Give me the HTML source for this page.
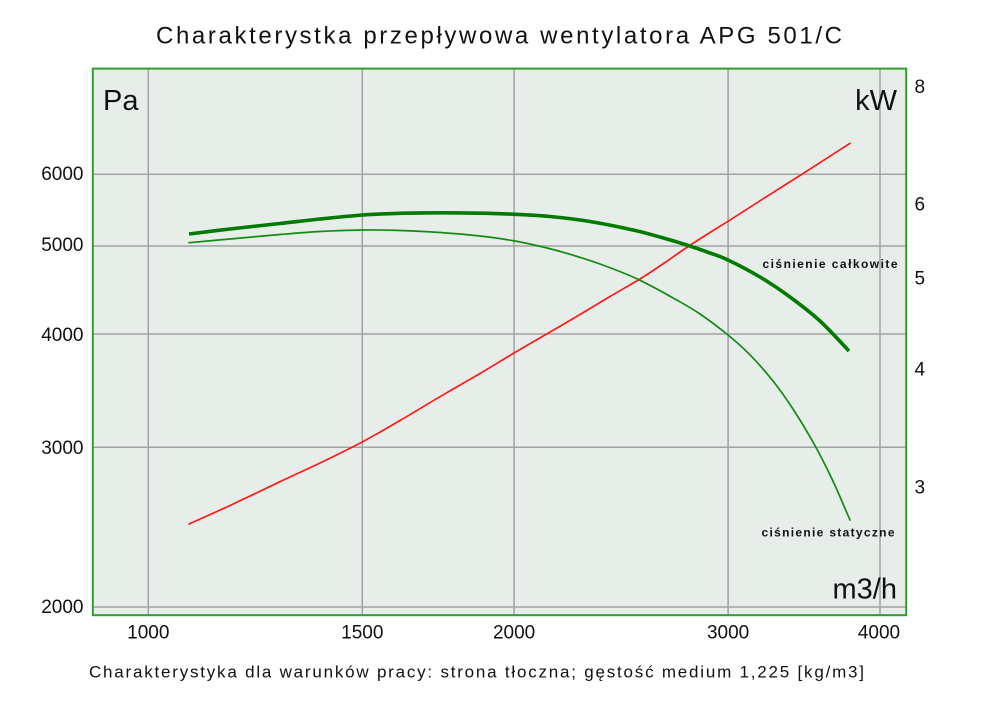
<!DOCTYPE html>
<html>
<head>
<meta charset="utf-8">
<style>
  html, body { margin: 0; padding: 0; background: #ffffff; }
  svg { display: block; }
  text { font-family: "Liberation Sans", "DejaVu Sans", sans-serif; fill: #111; }
</style>
</head>
<body>
<svg id="chart" width="1000" height="706" viewBox="0 0 1000 706" xmlns="http://www.w3.org/2000/svg">
  <rect x="0" y="0" width="1000" height="706" fill="#ffffff"/>

  <!-- Title -->
  <text x="156" y="43.3" font-size="24" textLength="686" lengthAdjust="spacing">Charakterystka przepływowa wentylatora APG 501/C</text>

  <!-- Plot background -->
  <rect x="93" y="69" width="813" height="546" fill="#e7eeea"/>

  <!-- Grid -->
  <g stroke="#a2a2a2" stroke-width="1.5" fill="none">
    <line x1="148.3" y1="69" x2="148.3" y2="615"/>
    <line x1="362.3" y1="69" x2="362.3" y2="615"/>
    <line x1="514.1" y1="69" x2="514.1" y2="615"/>
    <line x1="728.1" y1="69" x2="728.1" y2="615"/>
    <line x1="880" y1="69" x2="880" y2="615"/>
    <line x1="93" y1="174.3" x2="906" y2="174.3"/>
    <line x1="93" y1="246" x2="906" y2="246"/>
    <line x1="93" y1="334" x2="906" y2="334"/>
    <line x1="93" y1="447.3" x2="906" y2="447.3"/>
    <line x1="93" y1="607" x2="906" y2="607"/>
  </g>

  <!-- Frame -->
  <rect x="92.8" y="68.6" width="813.4" height="546.6" fill="none" stroke="#2e9e2e" stroke-width="2"/>

  <!-- Red power curve -->
  <polyline class="smooth" fill="none" stroke="#ff1a1a" stroke-width="1.7" stroke-linejoin="round" stroke-linecap="round"
    points="189,524 230,505.5 280,481.7 320,463 362.7,441.7 400,420.5 440,396.7 480,373.5 514,353 546.7,334 580,314.5 610,296.5 640,279 665,262.5 686.7,247.5 710,232.5 728,221.3 760,200.8 800,175.5 850,143.3"/>

  <!-- Static pressure (thin green) -->
  <polyline class="smooth" fill="none" stroke="#138a13" stroke-width="1.7" stroke-linejoin="round" stroke-linecap="round"
    points="189,242.7 230,239 280,234.5 320,231.5 362.7,230 400,230.5 440,232.5 480,236 515,241 545,247.5 566.7,253.3 600,264 638,279.3 676.7,300 700,314 728,335 750,354.8 773,381 793,409 813,442 832,479 850,520"/>

  <!-- Total pressure (thick green) -->
  <polyline class="smooth" fill="none" stroke="#007a00" stroke-width="3.6" stroke-linejoin="round" stroke-linecap="butt"
    points="189,234 230,229 280,223.5 320,219 362.7,215 400,213.3 440,212.8 480,213.2 515,214.3 550,216.5 590,221.5 633,230 660,237 686.7,245 710,253 728,260 760,277 790,297 820,321 849,351"/>

  <!-- Curve labels -->
  <text x="762.5" y="268" font-size="12" font-weight="bold" textLength="135" lengthAdjust="spacing">ciśnienie całkowite</text>
  <text x="761.5" y="536.5" font-size="12" font-weight="bold" textLength="133" lengthAdjust="spacing">ciśnienie statyczne</text>

  <!-- Unit labels -->
  <text x="103" y="110" font-size="29">Pa</text>
  <text x="897" y="110" font-size="29" text-anchor="end">kW</text>
  <text x="897" y="598.3" font-size="29" text-anchor="end">m3/h</text>

  <!-- Left axis labels -->
  <g font-size="19" text-anchor="end">
    <text x="83.5" y="180">6000</text>
    <text x="83.5" y="251">5000</text>
    <text x="83.5" y="341">4000</text>
    <text x="83.5" y="454">3000</text>
    <text x="83.5" y="613">2000</text>
  </g>

  <!-- Right axis labels -->
  <g font-size="19">
    <text x="914.5" y="93">8</text>
    <text x="914.5" y="210.7">6</text>
    <text x="914.5" y="284.7">5</text>
    <text x="914.5" y="375.7">4</text>
    <text x="914.5" y="493.5">3</text>
  </g>

  <!-- Bottom axis labels -->
  <g font-size="19" text-anchor="middle">
    <text x="148.3" y="638.3">1000</text>
    <text x="362.3" y="638.3">1500</text>
    <text x="514.1" y="638.3">2000</text>
    <text x="728.1" y="638.3">3000</text>
    <text x="879" y="638.3">4000</text>
  </g>

  <!-- Footer -->
  <text x="89" y="677.7" font-size="17" textLength="775" lengthAdjust="spacing">Charakterystyka dla warunków pracy: strona tłoczna; gęstość medium 1,225 [kg/m3]</text>
</svg>
<script>
(function(){
  var NS = "http://www.w3.org/2000/svg";
  var lines = document.querySelectorAll("polyline.smooth");
  for (var i = 0; i < lines.length; i++) {
    var pl = lines[i];
    var raw = pl.getAttribute("points").trim().split(/\s+/);
    var p = raw.map(function(s){ var a = s.split(","); return [parseFloat(a[0]), parseFloat(a[1])]; });
    if (p.length < 3) continue;
    var d = "M" + p[0][0] + "," + p[0][1];
    for (var k = 0; k < p.length - 1; k++) {
      var p0 = p[k === 0 ? 0 : k - 1], p1 = p[k], p2 = p[k + 1], p3 = p[k + 2 < p.length ? k + 2 : p.length - 1];
      var c1x = p1[0] + (p2[0] - p0[0]) / 6, c1y = p1[1] + (p2[1] - p0[1]) / 6;
      var c2x = p2[0] - (p3[0] - p1[0]) / 6, c2y = p2[1] - (p3[1] - p1[1]) / 6;
      d += " C" + c1x.toFixed(2) + "," + c1y.toFixed(2) + " " + c2x.toFixed(2) + "," + c2y.toFixed(2) + " " + p2[0] + "," + p2[1];
    }
    var path = document.createElementNS(NS, "path");
    path.setAttribute("d", d);
    ["fill","stroke","stroke-width","stroke-linejoin","stroke-linecap"].forEach(function(a){
      if (pl.getAttribute(a) !== null) path.setAttribute(a, pl.getAttribute(a));
    });
    pl.parentNode.insertBefore(path, pl);
    pl.parentNode.removeChild(pl);
  }
})();
</script>
</body>
</html>
